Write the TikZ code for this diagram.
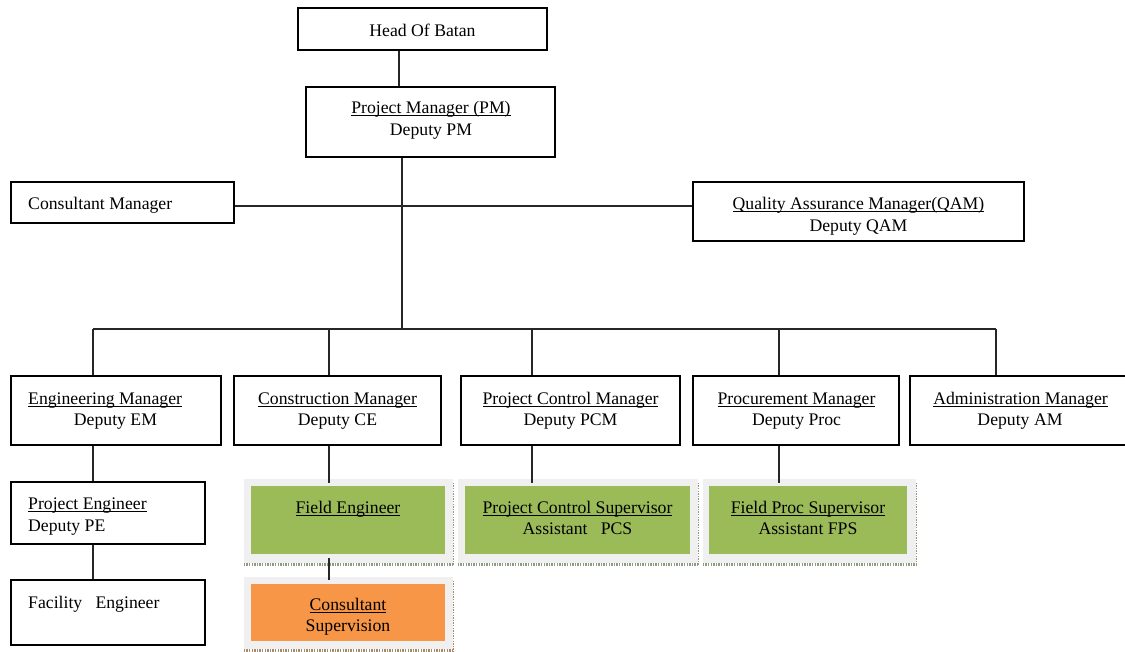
\documentclass[tikz,border=0pt]{standalone}
\usepackage{fontspec}
\setmainfont{Liberation Serif}
\usetikzlibrary{calc}
\newsavebox\myulbox
\newcommand\ulx[1]{\sbox\myulbox{#1}\rlap{\usebox\myulbox}\rule[-2.7pt]{\wd\myulbox}{0.9pt}}
\definecolor{olivegreen}{HTML}{9BBB59}
\definecolor{orangebox}{HTML}{F79646}
\definecolor{framegray}{HTML}{F0F0F0}
\definecolor{bandgreen}{HTML}{8E9A80}
\definecolor{bandbrown}{HTML}{A88A6A}
\tikzset{
  box/.style={draw=black, line width=1.8pt, inner sep=0pt, fill=white},
  shade frame/.style={fill=framegray, draw=none, inner sep=0pt},
  greenbox/.style={fill=olivegreen, draw=none, inner sep=0pt},
  orangecell/.style={fill=orangebox, draw=none, inner sep=0pt},
  txt/.style={inner sep=0pt, anchor=base, text=black, font=\fontsize{17.7}{21.5}\selectfont},
  ltxt/.style={txt, anchor=base west},
  link/.style={draw=black!85, line width=1.4pt},
  band/.style={line width=2.6pt, dash pattern=on 1.3pt off 1.3pt},
}
\begin{document}
\begin{tikzpicture}[x=1pt,y=-1pt]
\useasboundingbox (0,0) rectangle (1125,651);
\clip (0,0) rectangle (1125,651);
\fill[white] (0,0) rectangle (1125,651);

% bus coordinates
\coordinate (hl) at (402,206);
\coordinate (pmdrop) at (402,329);
\coordinate (d1) at (93,329);
\coordinate (d2) at (329,329);
\coordinate (d3) at (532,329);
\coordinate (d4) at (779,329);
\coordinate (d5) at (996,329);
\coordinate (hx) at (399,0);

% top boxes
\node[box, minimum width=249, minimum height=42] (head) at (422.5,29) {};
\node[box, minimum width=249, minimum height=70] (pm) at (430.5,122) {};
\node[box, minimum width=223, minimum height=41] (cons) at (122.5,202.5) {};
\node[box, minimum width=331, minimum height=59] (qam) at (858.5,211.5) {};

% row of managers
\node[box, minimum width=210, minimum height=69] (em) at (116,410.5) {};
\node[box, minimum width=207, minimum height=69] (cm) at (337.5,410.5) {};
\node[box, minimum width=219, minimum height=69] (pcm) at (570.5,410.5) {};
\node[box, minimum width=206, minimum height=69] (proc) at (796,410.5) {};
\node[box, minimum width=220, minimum height=69] (adm) at (1020,410.5) {};

% engineering branch
\node[box, minimum width=194, minimum height=62] (pe) at (108,513) {};
\node[box, minimum width=194, minimum height=65] (fac) at (108,612.5) {};

% shaded coloured boxes
\node[shade frame, minimum width=209, minimum height=84] (fefr) at (348.5,521) {};
\node[greenbox, minimum width=194, minimum height=68] (fe) at (348,520) {};
\node[shade frame, minimum width=240, minimum height=84] (pcsfr) at (578,521) {};
\node[greenbox, minimum width=225, minimum height=68] (pcs) at (577.5,520) {};
\node[shade frame, minimum width=213, minimum height=84] (fpsfr) at (809.5,521) {};
\node[greenbox, minimum width=198, minimum height=68] (fps) at (808,520) {};
\node[shade frame, minimum width=209, minimum height=72] (csfr) at (348.5,613) {};
\node[orangecell, minimum width=194, minimum height=57] (cs) at (348,612.5) {};

% dotted shadow bands
\foreach \f in {fefr,pcsfr,fpsfr}{
  \draw[band, bandgreen] ($(\f.south west)+(0,1.5)$) -- ($(\f.south east)+(0,1.5)$);
  \draw[band, bandgreen, line width=1.4pt] ($(\f.north east)+(0.5,4)$) -- ($(\f.south east)+(0.5,2.5)$);
}
\draw[band, bandbrown] ($(csfr.south west)+(0,1.5)$) -- ($(csfr.south east)+(0,1.5)$);
\draw[band, bandbrown, line width=1.4pt] ($(csfr.north east)+(0.5,4)$) -- ($(csfr.south east)+(0.5,2.5)$);

% connectors
\draw[link] (head.south -| hx) -- (pm.north -| hx);
\draw[link] (pm.south -| pmdrop) -- (pmdrop);
\draw[link] (cons.east |- hl) -- (qam.west |- hl);
\draw[link] (d1) -- (d5);
\foreach \b/\d in {em/d1, cm/d2, pcm/d3, proc/d4, adm/d5}{
  \draw[link] (\d) -- (\b.north -| \d);
}
\draw[link] (em.south -| d1) -- (pe.north -| d1);
\draw[link] (pe.south -| d1) -- (fac.north -| d1);
\draw[link] (cm.south -| d2) -- ($(fefr.north -| d2)+(0,4)$);
\draw[link] (pcm.south -| d3) -- ($(pcsfr.north -| d3)+(0,4)$);
\draw[link] (proc.south -| d4) -- ($(fpsfr.north -| d4)+(0,4)$);
\draw[link] ($(fe.south -| d2)+(0,4)$) -- ($(csfr.north -| d2)+(0,3)$);

% texts
\node[txt] (t-head) at (422.5,36) {Head Of Batan};
\node[txt] (t-pm1) at (431,113.5) {\ulx{Project Manager (PM)}};
\node[txt] (t-pm2) at (431,135) {Deputy PM};
\node[ltxt] (t-cons) at (28,209.5) {Consultant Manager};
\node[txt] (t-qam1) at (858.5,209.5) {\ulx{Quality Assurance Manager(QAM)}};
\node[txt] (t-qam2) at (858.5,231) {Deputy QAM};

\node[ltxt] (t-em1) at (28,404) {\ulx{Engineering Manager}};
\node[txt] (t-em2) at (115.5,425.5) {Deputy EM};
\node[txt] (t-cm1) at (337.5,404) {\ulx{Construction Manager}};
\node[txt] (t-cm2) at (337.5,425.5) {Deputy CE};
\node[txt] (t-pcm1) at (570.5,404) {\ulx{Project Control Manager}};
\node[txt] (t-pcm2) at (570.5,425.5) {Deputy PCM};
\node[txt] (t-proc1) at (796.5,404) {\ulx{Procurement Manager}};
\node[txt] (t-proc2) at (796.5,425.5) {Deputy Proc};
\node[txt] (t-adm1) at (1020.5,404) {\ulx{Administration Manager}};
\node[txt] (t-adm2) at (1020,425.5) {Deputy AM};

\node[ltxt] (t-pe1) at (28,509.5) {\ulx{Project Engineer}};
\node[ltxt] (t-pe2) at (28,531) {Deputy PE};
\node[ltxt] (t-fac) at (28,608) {Facility\ \ \ Engineer};

\node[txt] (t-fe) at (348,513) {\ulx{Field Engineer}};
\node[txt] (t-pcs1) at (577.5,513) {\ulx{Project Control Supervisor}};
\node[txt] (t-pcs2) at (577.5,534.5) {Assistant\ \ \ PCS};
\node[txt] (t-fps1) at (808,513) {\ulx{Field Proc Supervisor}};
\node[txt] (t-fps2) at (808,534.5) {Assistant FPS};
\node[txt] (t-cs1) at (348,610) {\ulx{Consultant}};
\node[txt] (t-cs2) at (348,631) {Supervision};
\end{tikzpicture}
\end{document}
